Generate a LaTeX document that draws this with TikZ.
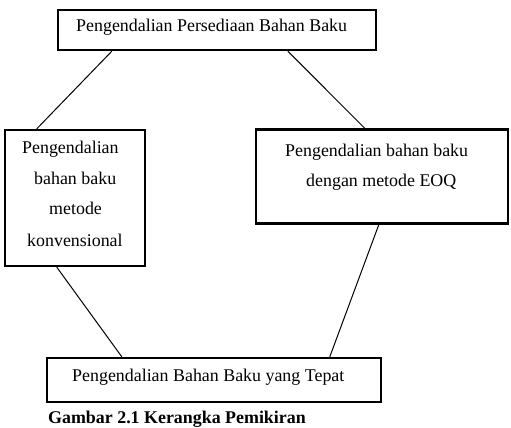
\documentclass[tikz,border=0pt]{standalone}
\usepackage{fontspec}
\setmainfont{Liberation Serif}
\usepackage{tikz}

\begin{document}
\begin{tikzpicture}[x=1pt, y=-1pt,
		kotak/.style={draw, line width=0.85mm, inner sep=0pt},
		teks/.style={anchor=base west, inner sep=0pt, font=\fontsize{17.9}{30.5}\selectfont},
		garis/.style={line width=0.35mm}]
			%%%%% START %%%%%
			
			\useasboundingbox (0, 0) rectangle (511, 428);
			
			\node[kotak, minimum width=318, minimum height=40] (persediaan) at (217, 30) {};
			\node[teks] (tPersediaan) at (76, 32) {Pengendalian Persediaan Bahan Baku};
			
			\node[kotak, minimum width=140, minimum height=136] (konv) at (75, 198) {};
			\node[teks] (tKonvA) at (22, 153) {Pengendalian};
			\node[teks] (tKonvB) at (34, 184) {bahan baku};
			\node[teks] (tKonvC) at (49, 214) {metode};
			\node[teks] (tKonvD) at (27, 246) {konvensional};
			
			\node[kotak, minimum width=252, minimum height=94] (eoq) at (382, 176.5) {};
			\node[teks] (tEoqA) at (285, 156) {Pengendalian bahan baku};
			\node[teks] (tEoqB) at (306, 186) {dengan metode EOQ};
			
			\node[kotak, minimum width=334, minimum height=44] (tepat) at (214, 380) {};
			\node[teks] (tTepat) at (72, 381) {Pengendalian Bahan Baku yang Tepat};
			
			\draw[garis] ([xshift=55]persediaan.south west) -- ([xshift=33]konv.north west);
			\draw[garis] ([xshift=231]persediaan.south west) -- ([xshift=110]eoq.north west);
			\draw[garis] ([xshift=53]konv.south west) -- ([xshift=76]tepat.north west);
			\draw[garis] ([xshift=124]eoq.south west) -- ([xshift=284]tepat.north west);
			
			\node[teks, font=\fontsize{17.9}{30.5}\selectfont\bfseries] (judul) at (48, 423) {Gambar 2.1 Kerangka Pemikiran};
			
			%%%%% END %%%%%
\end{tikzpicture}
\end{document}
